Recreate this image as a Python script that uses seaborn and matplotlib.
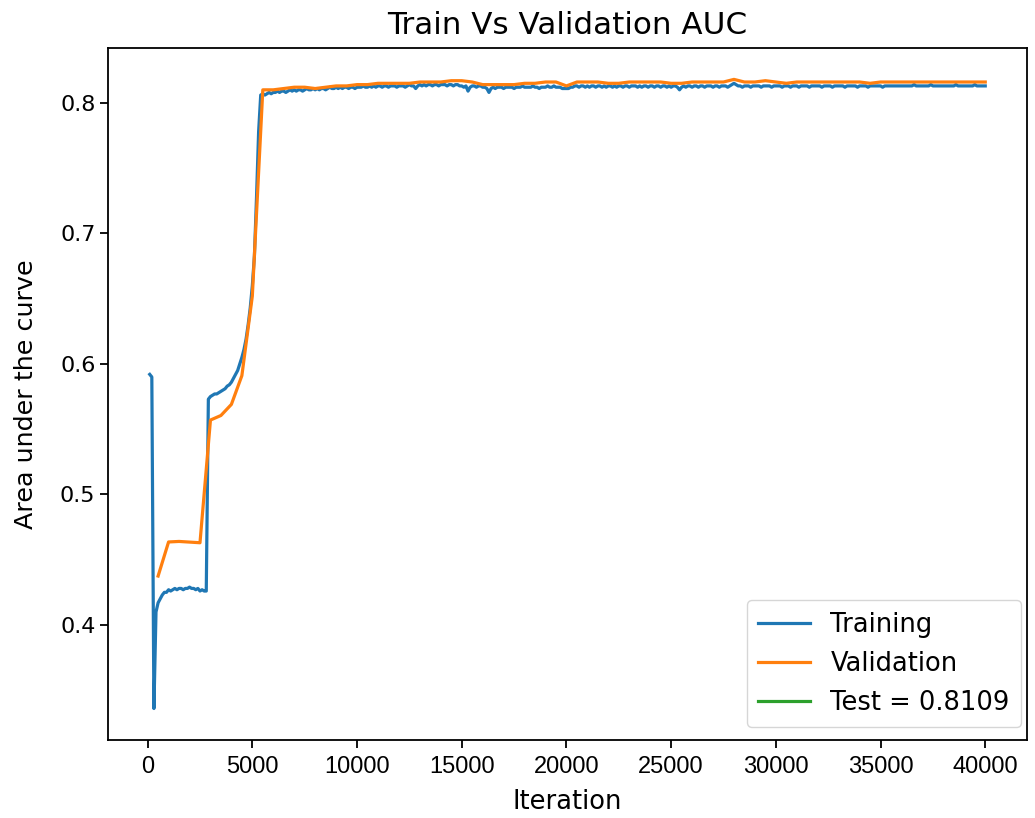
import numpy as np
import pandas as pd
import matplotlib
matplotlib.use("Agg")
import matplotlib.pyplot as plt
import seaborn as sns

# Training AUC, logged every 100 iterations (100 .. 40000)
train_iter = np.arange(100, 40001, 100)
train_auc = [
    0.592, 0.590, 0.336, 0.410, 0.417, 0.420, 0.423, 0.425, 0.425, 0.427, 0.426, 0.427, 0.428, 0.427, 0.428, 0.428, 0.427, 0.428, 0.428, 0.429,
    0.428, 0.428, 0.427, 0.428, 0.426, 0.427, 0.426, 0.426, 0.573, 0.575, 0.576, 0.577, 0.577, 0.578, 0.579, 0.580, 0.581, 0.583, 0.584, 0.586,
    0.589, 0.592, 0.595, 0.600, 0.605, 0.611, 0.619, 0.630, 0.643, 0.660, 0.683, 0.728, 0.778, 0.806, 0.807, 0.806, 0.807, 0.808, 0.807, 0.808,
    0.808, 0.809, 0.808, 0.809, 0.809, 0.808, 0.809, 0.810, 0.809, 0.810, 0.809, 0.810, 0.810, 0.809, 0.810, 0.811, 0.810, 0.810, 0.811, 0.810,
    0.811, 0.810, 0.811, 0.811, 0.810, 0.811, 0.812, 0.811, 0.811, 0.812, 0.811, 0.812, 0.811, 0.812, 0.812, 0.811, 0.812, 0.812, 0.811, 0.812,
    0.812, 0.812, 0.813, 0.812, 0.812, 0.813, 0.812, 0.813, 0.812, 0.813, 0.813, 0.812, 0.813, 0.813, 0.812, 0.813, 0.813, 0.813, 0.812, 0.813,
    0.813, 0.813, 0.812, 0.813, 0.814, 0.813, 0.813, 0.811, 0.813, 0.814, 0.813, 0.814, 0.813, 0.814, 0.814, 0.813, 0.814, 0.814, 0.813, 0.814,
    0.814, 0.814, 0.813, 0.814, 0.814, 0.813, 0.814, 0.814, 0.813, 0.813, 0.812, 0.813, 0.809, 0.812, 0.813, 0.813, 0.812, 0.813, 0.813, 0.812,
    0.812, 0.811, 0.808, 0.811, 0.812, 0.811, 0.812, 0.812, 0.812, 0.811, 0.812, 0.812, 0.812, 0.812, 0.811, 0.812, 0.812, 0.812, 0.813, 0.812,
    0.812, 0.812, 0.812, 0.813, 0.812, 0.812, 0.811, 0.812, 0.812, 0.812, 0.813, 0.812, 0.812, 0.813, 0.812, 0.812, 0.812, 0.811, 0.811, 0.811,
    0.811, 0.812, 0.812, 0.813, 0.813, 0.812, 0.813, 0.813, 0.812, 0.813, 0.812, 0.813, 0.813, 0.812, 0.813, 0.813, 0.812, 0.813, 0.812, 0.813,
    0.813, 0.812, 0.813, 0.812, 0.813, 0.813, 0.812, 0.813, 0.813, 0.812, 0.813, 0.813, 0.813, 0.812, 0.813, 0.812, 0.813, 0.813, 0.812, 0.813,
    0.813, 0.812, 0.813, 0.813, 0.812, 0.813, 0.813, 0.812, 0.813, 0.812, 0.813, 0.813, 0.812, 0.810, 0.812, 0.813, 0.812, 0.813, 0.813, 0.812,
    0.813, 0.813, 0.812, 0.813, 0.813, 0.812, 0.813, 0.813, 0.813, 0.812, 0.813, 0.813, 0.812, 0.813, 0.813, 0.813, 0.812, 0.813, 0.814, 0.815,
    0.814, 0.813, 0.813, 0.812, 0.813, 0.813, 0.813, 0.812, 0.813, 0.813, 0.813, 0.813, 0.812, 0.813, 0.813, 0.813, 0.813, 0.812, 0.813, 0.813,
    0.813, 0.813, 0.812, 0.813, 0.813, 0.813, 0.812, 0.813, 0.813, 0.813, 0.812, 0.813, 0.813, 0.813, 0.813, 0.812, 0.813, 0.813, 0.813, 0.813,
    0.813, 0.812, 0.813, 0.813, 0.813, 0.813, 0.812, 0.813, 0.813, 0.813, 0.813, 0.813, 0.812, 0.813, 0.813, 0.813, 0.813, 0.813, 0.812, 0.813,
    0.813, 0.813, 0.813, 0.812, 0.813, 0.813, 0.813, 0.813, 0.813, 0.813, 0.812, 0.813, 0.813, 0.813, 0.813, 0.813, 0.813, 0.813, 0.813, 0.813,
    0.813, 0.813, 0.813, 0.813, 0.813, 0.814, 0.813, 0.813, 0.813, 0.813, 0.813, 0.813, 0.813, 0.814, 0.813, 0.813, 0.813, 0.813, 0.813, 0.813,
    0.813, 0.813, 0.813, 0.813, 0.813, 0.814, 0.813, 0.813, 0.813, 0.813, 0.813, 0.813, 0.813, 0.813, 0.814, 0.813, 0.813, 0.813, 0.813, 0.813,
]

# Validation AUC, evaluated every 500 iterations (500 .. 40000)
val_iter = np.arange(500, 40001, 500)
val_auc = [
    0.4375, 0.4636, 0.4640, 0.4635, 0.4630, 0.557, 0.5605, 0.569, 0.591, 0.652,
    0.810, 0.810, 0.811, 0.812, 0.812, 0.811, 0.812, 0.813, 0.813, 0.814,
    0.814, 0.815, 0.815, 0.815, 0.815, 0.816, 0.816, 0.816, 0.817, 0.817,
    0.816, 0.814, 0.814, 0.814, 0.814, 0.815, 0.815, 0.816, 0.816, 0.813,
    0.816, 0.816, 0.816, 0.815, 0.815, 0.816, 0.816, 0.816, 0.816, 0.815,
    0.815, 0.816, 0.816, 0.816, 0.816, 0.818, 0.816, 0.816, 0.817, 0.816,
    0.815, 0.816, 0.816, 0.816, 0.816, 0.816, 0.816, 0.816, 0.815, 0.816,
    0.816, 0.816, 0.816, 0.816, 0.816, 0.816, 0.816, 0.816, 0.816, 0.816,
]

test_auc = 0.8109

train_df = pd.DataFrame({"Iteration": train_iter, "AUC": train_auc})
val_df = pd.DataFrame({"Iteration": val_iter, "AUC": val_auc})

plt.rcParams["font.family"] = ["DejaVu Sans"]

fig = plt.figure(figsize=(10.35, 8.18), dpi=100)
ax = fig.add_axes([0.1043, 0.0954, 0.888, 0.846])

lw = 2.3
sns.lineplot(data=train_df, x="Iteration", y="AUC", ax=ax, color="#1f77b4",
             linewidth=lw, label="Training", estimator=None)
sns.lineplot(data=val_df, x="Iteration", y="AUC", ax=ax, color="#ff7f0e",
             linewidth=lw, label="Validation", estimator=None)
ax.plot([], [], color="#2ca02c", linewidth=lw, label=f"Test = {test_auc}")

ax.set_title("Train Vs Validation AUC", fontsize=22.3, pad=10)
ax.set_xlabel("Iteration", fontsize=18.5, labelpad=8)
ax.set_ylabel("Area under the curve", fontsize=18.3, labelpad=16)
ax.set_xticks(np.arange(0, 40001, 5000))
ax.set_yticks([0.4, 0.5, 0.6, 0.7, 0.8])
ax.tick_params(axis="y", labelsize=16, length=5.5, width=1.3)
ax.tick_params(axis="x", labelsize=17, length=5.5, width=1.3, pad=6)
for lab in ax.get_xticklabels():
    lab.set_fontfamily("Liberation Sans")
for sp in ax.spines.values():
    sp.set_linewidth(1.3)
ax.grid(False)

ax.legend(loc="lower right", bbox_to_anchor=(1.0076, 0.0), fontsize=18.5,
          frameon=True, handlelength=2.0, borderpad=0.45, labelspacing=0.5,
          fancybox=True, framealpha=0.8)

fig.savefig("out.png", dpi=100)
